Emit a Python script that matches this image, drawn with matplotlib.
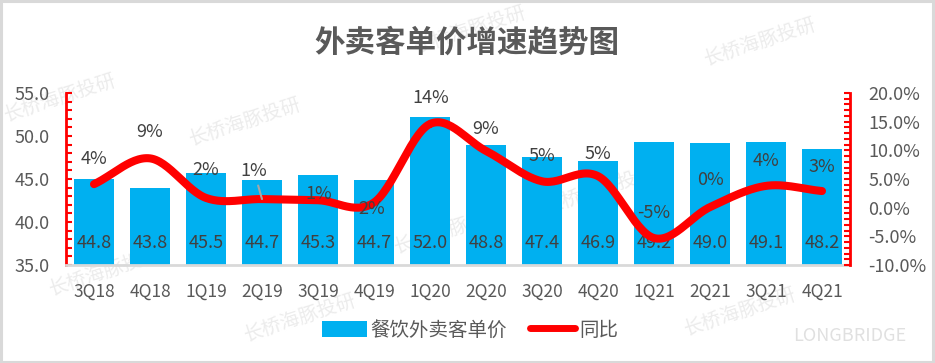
import numpy as np
import matplotlib
matplotlib.use("Agg")
import matplotlib.pyplot as plt
from matplotlib.ticker import MultipleLocator, FuncFormatter
from matplotlib.patches import Rectangle
from matplotlib.lines import Line2D

plt.rcParams['font.family'] = ['Noto Sans CJK SC', 'DejaVu Sans']

# ---- data ----
categories = ['3Q18', '4Q18', '1Q19', '2Q19', '3Q19', '4Q19', '1Q20', '2Q20',
              '3Q20', '4Q20', '1Q21', '2Q21', '3Q21', '4Q21']
avg_price = [44.8, 43.8, 45.5, 44.7, 45.3, 44.7, 52.0, 48.8, 47.4, 46.9, 49.2, 49.0, 49.1, 48.2]
bar_heights = [45.0, 44.0, 45.7, 44.9, 45.5, 44.9, 52.2, 49.0, 47.6, 47.1, 49.3, 49.2, 49.3, 48.5]
yoy = [4.1, 8.6, 1.7, 1.5, 1.3, 0.9, 14.6, 9.9, 4.6, 5.5, -5.3, 0.1, 3.8, 2.9]
yoy_labels = ['4%', '9%', '2%', '1%', '1%', '2%', '14%', '9%', '5%', '5%', '-5%', '0%', '4%', '3%']

# label offsets in pixels (x, y)
label_offsets = [(0, 25), (0, 26), (0, 28), (-8, 28), (1, 6), (-2, -6), (1, 26),
                 (0, 22), (0, 25), (0, 22), (0, 25), (0, 27), (0, 25), (0, 24)]

W, H = 935, 363
fig = plt.figure(figsize=(W / 100, H / 100), dpi=100)
fig.patch.set_facecolor('white')

# outer border
fig.add_artist(Rectangle((0.001, 0.002), 0.997, 0.995, transform=fig.transFigure,
                         fill=False, edgecolor='#d9d9d9', linewidth=2.2))

# watermarks (faint, behind the chart)
wm_color = '#ececec'
for (x, y, rot) in [(470, 30, 18), (760, 42, 18), (60, 98, 18), (245, 122, 18),
                    (600, 190, 18), (300, 318, 18), (105, 272, 18),
                    (740, 312, 18), (450, 230, 18)]:
    fig.text(x / W, 1 - y / H, '长桥海豚投研', fontsize=14, color=wm_color,
             rotation=rot, ha='center', va='center', zorder=-5)
fig.text(850 / W, 1 - 336 / H, 'LONGBRIDGE', fontsize=13, color='#e0e0e0',
         ha='center', va='center', zorder=-5)

ax = fig.add_axes([66 / W, 1 - 265 / H, (850 - 66) / W, (265 - 93) / H])
ax.set_facecolor('none')
x = np.arange(len(categories))

bars = ax.bar(x, bar_heights, width=0.72, color='#00B0F0', zorder=2, bottom=0)
ax.set_ylim(35, 55)
ax.set_xlim(-0.5, len(categories) - 0.5)

for xi, v in zip(x, avg_price):
    ax.annotate(f'{v:.1f}', (xi, 35), xytext=(0, 22), textcoords='offset pixels',
                ha='center', va='center', fontsize=13, color='#404040', zorder=5)

ax.set_xticks(x)
ax.set_xticklabels(categories, fontsize=12.5, color='#595959')
ax.tick_params(axis='x', length=0, pad=13)
ax.yaxis.set_major_locator(MultipleLocator(5))
ax.yaxis.set_minor_locator(MultipleLocator(1))
ax.yaxis.set_major_formatter(FuncFormatter(lambda v, p: f'{v:.1f}'))
ax.tick_params(axis='y', which='both', direction='in', length=4, width=1.5,
               color='red', labelsize=13, labelcolor='#595959', pad=12)
for s in ['top', 'right']:
    ax.spines[s].set_visible(False)
ax.spines['left'].set_color('red')
ax.spines['left'].set_linewidth(2)
ax.spines['bottom'].set_color('#d9d9d9')
ax.spines['bottom'].set_linewidth(2)

ax2 = ax.twinx()
ax2.set_ylim(-10, 20)
ax2.yaxis.set_major_locator(MultipleLocator(5))
ax2.yaxis.set_minor_locator(MultipleLocator(1))
ax2.yaxis.set_major_formatter(FuncFormatter(lambda v, p: f'{v:.1f}%'))
ax2.tick_params(axis='y', which='both', direction='in', length=4, width=1.5,
                color='red', labelsize=13, labelcolor='#595959', pad=13)
for s in ['top', 'left', 'bottom']:
    ax2.spines[s].set_visible(False)
ax2.spines['right'].set_color('red')
ax2.spines['right'].set_linewidth(2)

# smooth line (Catmull-Rom through data points)
xp = np.asarray(x, dtype=float)
yp = np.asarray(yoy, dtype=float)
P = np.column_stack([xp, yp])
Pext = np.vstack([P[0] - (P[1] - P[0]), P, P[-1] + (P[-1] - P[-2])])
pts = []
for i in range(1, len(Pext) - 2):
    p0, p1, p2, p3 = Pext[i - 1], Pext[i], Pext[i + 1], Pext[i + 2]
    t = np.linspace(0, 1, 30)[:, None]
    seg = 0.5 * ((2 * p1) + (-p0 + p2) * t + (2 * p0 - 5 * p1 + 4 * p2 - p3) * t ** 2
                 + (-p0 + 3 * p1 - 3 * p2 + p3) * t ** 3)
    pts.append(seg)
curve = np.vstack(pts)
ax2.plot(curve[:, 0], curve[:, 1], color='#FF0000', linewidth=5.8,
         solid_capstyle='round', zorder=3)

for i, (xi, v, lab) in enumerate(zip(x, yoy, yoy_labels)):
    dx, dy = label_offsets[i]
    kw = {}
    if i == 3:
        kw['arrowprops'] = dict(arrowstyle='-', color='#a6a6a6', lw=1.5,
                                shrinkA=2, shrinkB=0)
    ax2.annotate(lab, (xi, v), xytext=(dx, dy), textcoords='offset pixels',
                 ha='center', va='center', fontsize=13, color='#404040', zorder=5, **kw)

# title
fig.text(467 / W, 1 - 43 / H, '外卖客单价增速趋势图', fontsize=22, fontweight='bold',
         color='#595959', ha='center', va='center')

# legend
handles = [Rectangle((0, 0), 1, 1, facecolor='#00B0F0'),
           Line2D([0], [0], color='#FF0000', linewidth=5, solid_capstyle='round')]
fig.legend(handles, ['餐饮外卖客单价', '同比'], loc='center', bbox_to_anchor=(470 / W, 1 - 330 / H),
           ncol=2, frameon=False, fontsize=14, labelcolor='#595959',
           handlelength=2.3, handleheight=0.9, handletextpad=0.2, columnspacing=1.2)

fig.savefig('out.png', dpi=100, facecolor='white')
